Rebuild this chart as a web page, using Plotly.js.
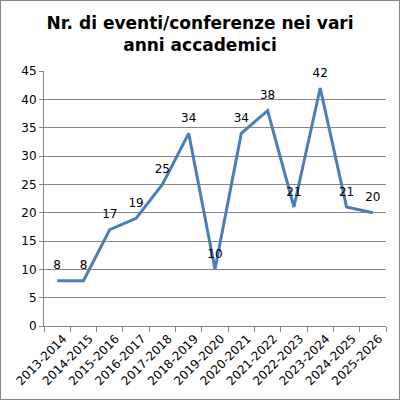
<!DOCTYPE html>
<html><head><meta charset="utf-8">
<script src="https://cdn.plot.ly/plotly-3.0.1.min.js"></script>
<style>
html,body{margin:0;padding:0;background:#fff;}
#chart{width:400px;height:400px;box-sizing:border-box;border:1px solid #868686;}
</style></head>
<body><div id="chart"></div>
<script>
const categories = ["2013-2014","2014-2015","2015-2016","2016-2017","2017-2018","2018-2019","2019-2020","2020-2021","2021-2022","2022-2023","2023-2024","2024-2025","2025-2026"];
const values = [8,8,17,19,25,34,10,34,38,21,42,21,20];
const yTicks = [0,5,10,15,20,25,30,35,40,45];

const trace = {
  x: categories, y: values, type: 'scatter', mode: 'lines+markers+text',
  text: values.map(String), textposition: 'top center',
  textfont: {family: 'DejaVu Sans', size: 12, color: '#000'},
  line: {color: '#4A7EBB', width: 3},
  marker: {size: 12, color: 'rgba(0,0,0,0)'},
  cliponaxis: false, hoverinfo: 'none'
};
const layout = {
  width: 398, height: 398,
  margin: {l: 43, r: 13, t: 70, b: 73},
  paper_bgcolor: '#fff', plot_bgcolor: '#fff',
  showlegend: false,
  title: {text: 'Nr. di eventi/conferenze nei vari<br>anni accademici',
    font: {family: 'DejaVu Sans', size: 17, color: '#000', weight: 'bold'},
    x: 0.5, xanchor: 'center', y: 0.93, yanchor: 'top'},
  xaxis: {type: 'category', range: [-0.5, 12.5], tickson: 'boundaries',
    ticks: 'outside', ticklen: 5, tickcolor: '#868686',
    showline: true, linecolor: '#868686', linewidth: 1, showgrid: false,
    tickangle: -45, ticklabelshift: 6,
    tickfont: {family: 'DejaVu Sans', size: 12, color: '#000'}},
  yaxis: {range: [0, 45], tickvals: yTicks, ticktext: yTicks.map(String),
    ticks: 'outside', ticklen: 4, tickcolor: '#868686',
    showline: true, linecolor: '#868686', linewidth: 1,
    showgrid: true, gridcolor: '#868686', gridwidth: 1, zeroline: false,
    tickfont: {family: 'DejaVu Sans', size: 12, color: '#000'}}
};
Plotly.newPlot('chart', [trace], layout, {displayModeBar: false, staticPlot: true});
</script></body></html>
